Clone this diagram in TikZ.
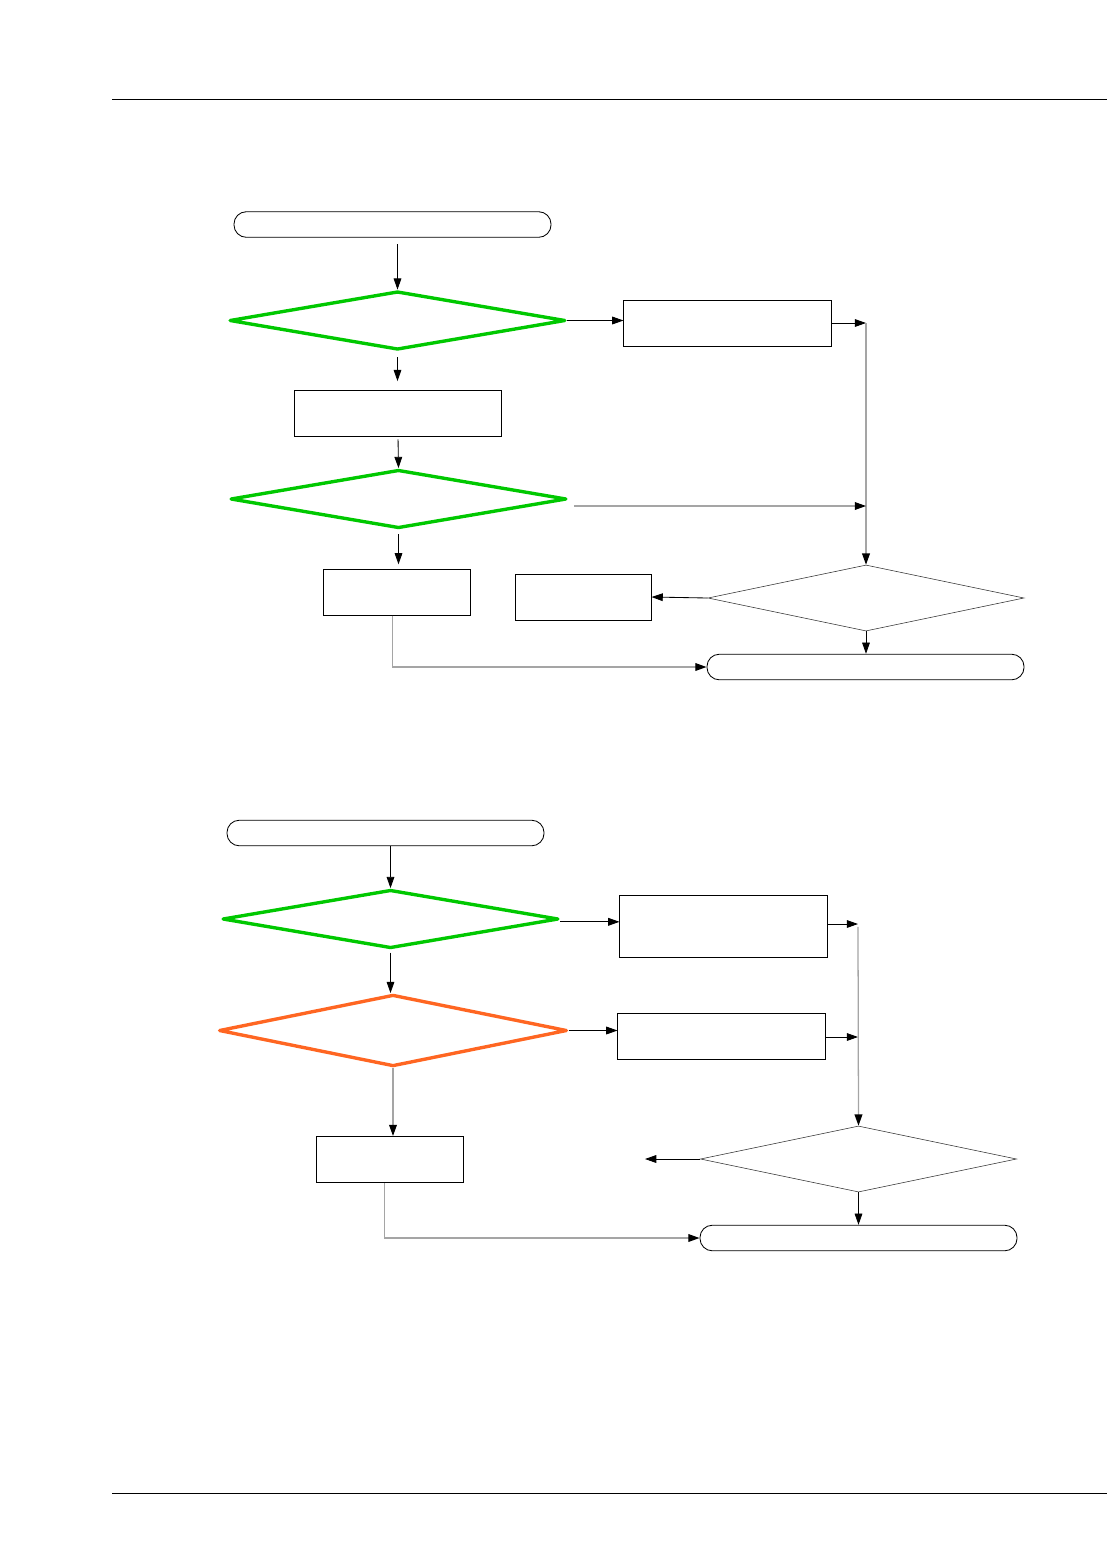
\documentclass[tikz,border=0pt]{standalone}
\usepackage{xcolor}
\definecolor{fcgreen}{RGB}{0,200,0}
\definecolor{fcorange}{RGB}{255,102,34}
\definecolor{fcgray}{RGB}{165,165,165}
\usetikzlibrary{arrows.meta,positioning,shapes.geometric,calc}

\begin{document}
\begin{tikzpicture}[x=0.025cm, y=-0.025cm,
  term/.style={rectangle, rounded corners=0.31cm, draw=black, line width=0.6pt,
               minimum width=7.925cm, minimum height=0.64cm, inner sep=0pt},
  proc/.style={rectangle, draw=black, line width=0.7pt, minimum width=5.175cm,
               minimum height=1.15cm, inner sep=0pt},
  decg/.style={diamond, draw=fcgreen, line width=2.4pt, line join=round,
               minimum width=8.4cm, minimum height=1.46cm, inner sep=0pt},
  deco/.style={diamond, draw=fcorange, line width=2.4pt, line join=round,
               minimum width=8.7cm, minimum height=1.79cm, inner sep=0pt},
  decn/.style={diamond, draw=black!80, line width=0.4pt, minimum width=7.9cm,
               minimum height=1.65cm, inner sep=0pt},
  conn/.style={-{Triangle[length=8pt,width=5.5pt]}, line width=0.6pt, draw=black},
  gconn/.style={-{Triangle[length=8pt,width=5.5pt,color=black]}, line width=0.9pt, draw=fcgray}
]
\useasboundingbox (0,0) rectangle (1107,1554);

% page rules
\draw[line width=0.7pt] (112,99) -- (1107,99);
\draw[line width=0.7pt] (112,1493) -- (1107,1493);

% first chart
\node[term] (start1) at (392.5,224.5) {};
\node[decg] (d1) at (397.5,320.5) {};
\node[proc] (b1) at (727.5,323) {};
\node[proc] (b2) at (398,413) {};
\node[decg] (d2) at (398.5,499) {};
\node[proc, minimum width=3.65cm] (b3) at (397,592) {};
\node[proc, minimum width=3.375cm] (b4) at (583.5,597) {};
\node[decn] (d3) at (866,598) {};
\node[term] (end1) at (865.5,667) {};
\coordinate (j1) at (866,323);
\coordinate (j2) at (866,506);

\draw[conn, shorten <=4.5pt] (start1.south -| d1.north) -- (d1.north);
\draw[conn] (d1.east) -- (d1.east -| b1.west);
\draw[conn] (b1.east) -- (j1);
\draw[gconn] (j1) -- (d3.north);
\draw[conn, shorten <=4pt, shorten >=6pt] (d1.south) -- (d1.south |- b2.north);
\draw[conn, shorten <=2pt] (b2.south) -- (d2.north);
\draw[gconn] ([xshift=4pt]d2.east |- j2) -- (j2);
\draw[conn, shorten <=3pt, shorten >=3pt] (d2.south) -- (d2.south |- b3.north);
\draw[conn] (d3.west) -- (b4.east);
\draw[conn] (d3.south) -- (d3.south |- end1.north);
\draw[gconn] ([xshift=-3pt]b3.south) |- (end1.west);

% second chart
\node[term] (start2) at (385.5,833) {};
\node[decg] (d4) at (390.5,919) {};
\node[proc, minimum height=1.55cm] (b5) at (723.5,926) {};
\node[deco] (d5) at (393,1030.5) {};
\node[proc] (b6) at (721.5,1036) {};
\node[proc, minimum width=3.65cm] (b7) at (390,1159.5) {};
\node[decn] (d6) at (858.5,1159) {};
\node[term] (end2) at (858.5,1238) {};
\coordinate (j3) at (858,924);
\coordinate (j4) at (858,1037);
\coordinate (out2) at (645,1159);

\draw[conn] (start2.south -| d4.north) -- (d4.north);
\draw[conn] ([yshift=-2pt]d4.east) -- ([yshift=-2pt]d4.east -| b5.west);
\draw[conn] (b5.east |- j3) -- (j3);
\draw[conn, shorten <=2pt] (d4.south) -- (d4.south |- d5.north);
\draw[conn] (d5.east) -- (d5.east -| b6.west);
\draw[conn] (b6.east |- j4) -- (j4);
\draw[gconn] ([yshift=-2pt]j3) -- (d6.north);
\draw[gconn] (d5.south) -- (d5.south |- b7.north);
\draw[conn] (d6.west) -- (out2);
\draw[conn] (d6.south) -- (end2.north);
\draw[gconn] ([xshift=-4pt]b7.south) |- (end2.west);
\end{tikzpicture}
\end{document}
